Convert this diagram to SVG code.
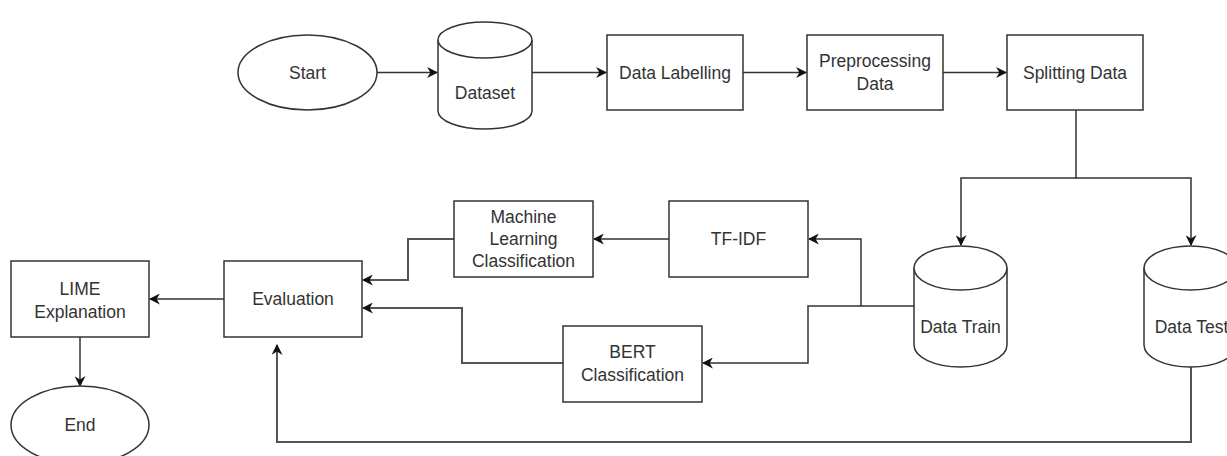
<svg xmlns="http://www.w3.org/2000/svg" width="1227" height="456" viewBox="0 0 1227 456">
  <style>
    .shape { fill: #ffffff; stroke: #333333; stroke-width: 1.5; }
    .label { font-family: "Liberation Sans", Arial, sans-serif; font-size: 17.5px; fill: #333333; text-anchor: middle; }
    .edge { fill: none; stroke: #333333; stroke-width: 1.5; }
    .edge2 { fill: none; stroke: #555555; stroke-width: 2; }
  </style>
  <defs>
    <marker id="arrow" viewBox="0 0 10 10" refX="9" refY="5" markerWidth="11" markerHeight="11" markerUnits="userSpaceOnUse" orient="auto">
      <path d="M0,0 L10,5 L0,10 L3,5 Z" fill="#111111"/>
    </marker>
  </defs>
  <rect width="1227" height="456" fill="#ffffff"/>

  <!-- connectors -->
  <g id="connectors">
    <path class="edge" d="M377,72.5 H437" marker-end="url(#arrow)"/>
    <path class="edge" d="M532,72.5 H606" marker-end="url(#arrow)"/>
    <path class="edge" d="M743,72.5 H806" marker-end="url(#arrow)"/>
    <path class="edge" d="M943,72.5 H1006" marker-end="url(#arrow)"/>
    <path class="edge" d="M1076,110 V178 H961 V245" marker-end="url(#arrow)"/>
    <path class="edge" d="M1076,178 H1191 V245" marker-end="url(#arrow)"/>
    <path class="edge" d="M914,306 H861 V239 H809" marker-end="url(#arrow)"/>
    <path class="edge" d="M861,306 H808 V363 H703" marker-end="url(#arrow)"/>
    <path class="edge" d="M669,239 H594" marker-end="url(#arrow)"/>
    <path class="edge2" d="M454,239 H408 V280 H363" marker-end="url(#arrow)"/>
    <path class="edge2" d="M563,363 H462 V308 H363" marker-end="url(#arrow)"/>
    <path class="edge2" d="M1191,367 V442 H277 V345" marker-end="url(#arrow)"/>
    <path class="edge" d="M224,299 H150" marker-end="url(#arrow)"/>
    <path class="edge" d="M80,337 V386" marker-end="url(#arrow)"/>
  </g>

  <g id="start">
    <ellipse class="shape" cx="307.5" cy="72.5" rx="69.5" ry="37.5"/>
    <text class="label" x="307.5" y="78.5">Start</text>
  </g>

  <g id="dataset">
    <path class="shape" d="M438,40 A47,18 0 0 1 532,40 V111 A47,18 0 0 1 438,111 Z"/>
    <path class="shape" fill="none" d="M438,40 A47,18 0 0 0 532,40"/>
    <text class="label" x="485" y="99">Dataset</text>
  </g>

  <g id="data-labelling">
    <rect class="shape" x="607" y="35" width="136" height="75"/>
    <text class="label" x="675" y="78.5">Data Labelling</text>
  </g>

  <g id="preprocessing">
    <rect class="shape" x="807" y="35" width="136" height="75"/>
    <text class="label" x="875" y="67">Preprocessing</text>
    <text class="label" x="875" y="90">Data</text>
  </g>

  <g id="splitting">
    <rect class="shape" x="1007" y="35" width="136" height="75"/>
    <text class="label" x="1075" y="78.5">Splitting Data</text>
  </g>

  <g id="data-train">
    <path class="shape" d="M914,268 A46.5,22 0 0 1 1007,268 V345 A46.5,22 0 0 1 914,345 Z"/>
    <path class="shape" fill="none" d="M914,268 A46.5,22 0 0 0 1007,268"/>
    <text class="label" x="960.5" y="333">Data Train</text>
  </g>

  <g id="data-test">
    <path class="shape" d="M1144,268 A46.5,22 0 0 1 1237,268 V345 A46.5,22 0 0 1 1144,345 Z"/>
    <path class="shape" fill="none" d="M1144,268 A46.5,22 0 0 0 1237,268"/>
    <text class="label" x="1191.5" y="333">Data Test</text>
  </g>

  <g id="tf-idf">
    <rect class="shape" x="669" y="201" width="139" height="76"/>
    <text class="label" x="738.5" y="245">TF-IDF</text>
  </g>

  <g id="ml-classification">
    <rect class="shape" x="454" y="201" width="139" height="76"/>
    <text class="label" x="523.5" y="223">Machine</text>
    <text class="label" x="523.5" y="245">Learning</text>
    <text class="label" x="523.5" y="267">Classification</text>
  </g>

  <g id="bert-classification">
    <rect class="shape" x="563" y="326" width="139" height="76"/>
    <text class="label" x="632.5" y="358">BERT</text>
    <text class="label" x="632.5" y="381">Classification</text>
  </g>

  <g id="evaluation">
    <rect class="shape" x="224" y="261" width="138" height="76"/>
    <text class="label" x="293" y="305">Evaluation</text>
  </g>

  <g id="lime">
    <rect class="shape" x="11" y="261" width="138" height="76"/>
    <text class="label" x="80" y="295">LIME</text>
    <text class="label" x="80" y="318">Explanation</text>
  </g>

  <g id="end">
    <ellipse class="shape" cx="80" cy="425" rx="69" ry="39"/>
    <text class="label" x="80" y="431">End</text>
  </g>
</svg>
